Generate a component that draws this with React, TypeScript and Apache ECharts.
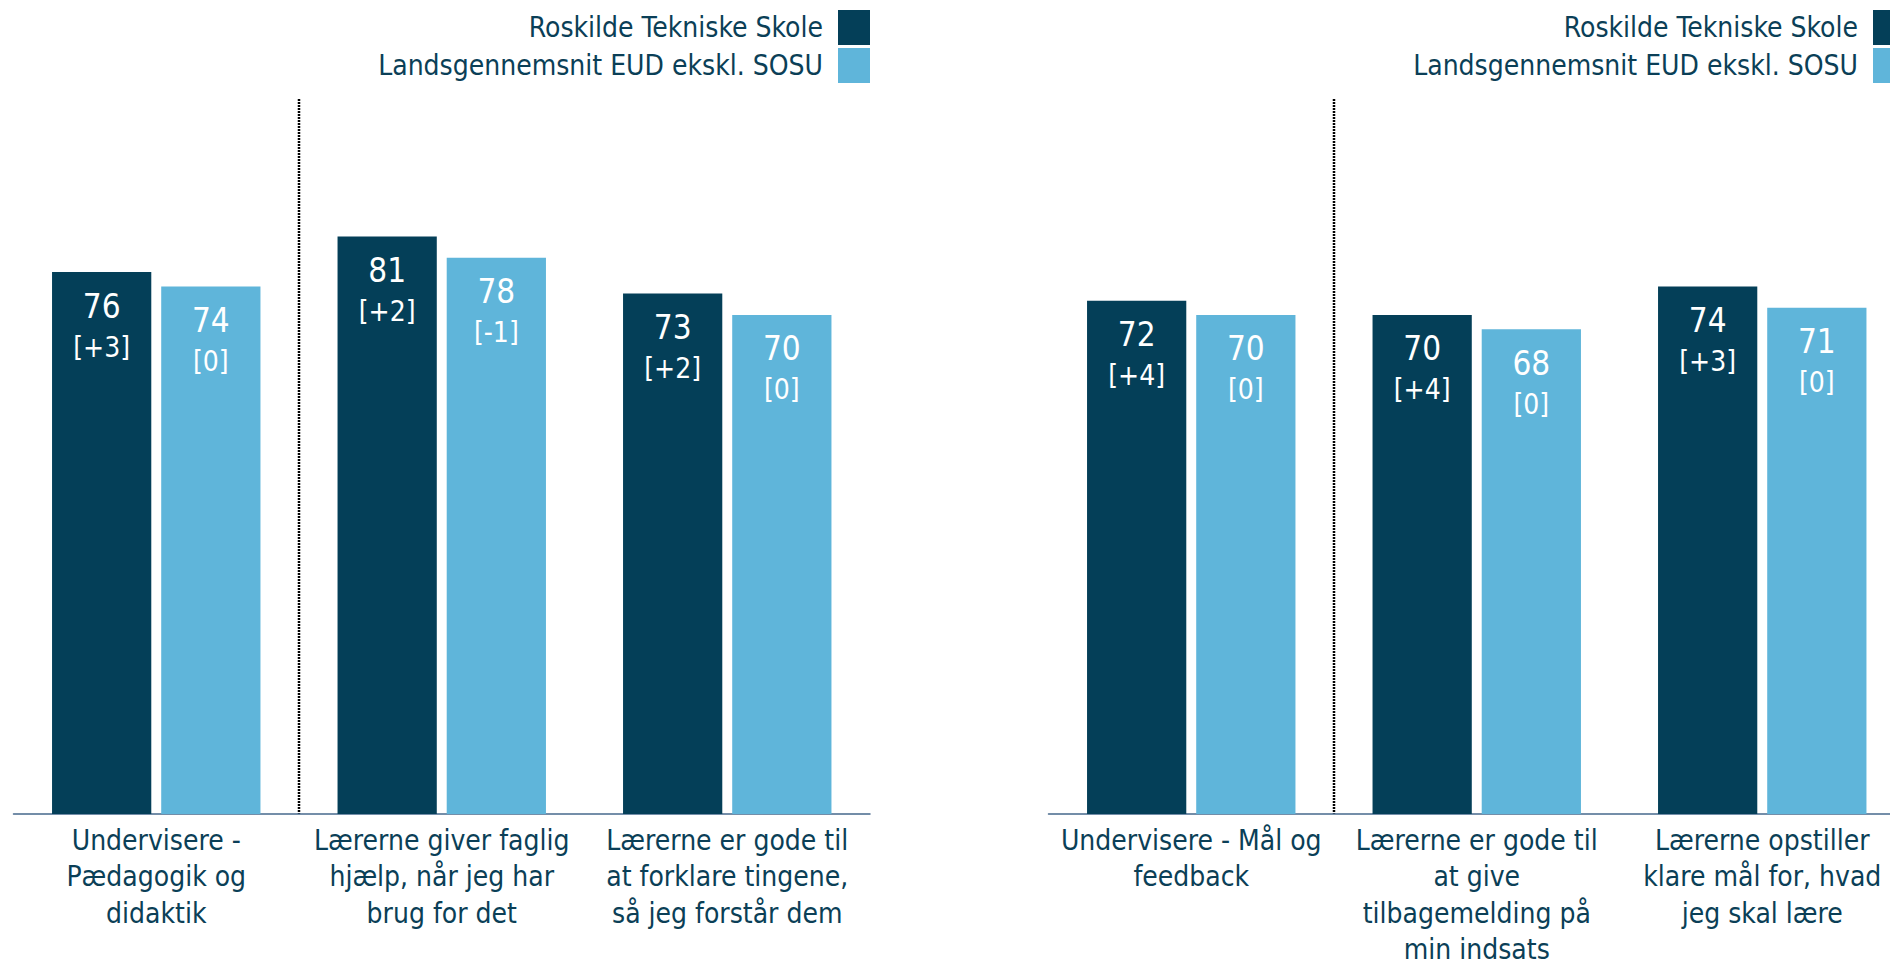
import React, { useEffect, useRef } from "react";
import * as echarts from "echarts";

const seriesNames = ["Roskilde Tekniske Skole", "Landsgennemsnit EUD ekskl. SOSU"];

const leftCategories = [
  "Undervisere -\nPædagogik og\ndidaktik",
  "Lærerne giver faglig\nhjælp, når jeg har\nbrug for det",
  "Lærerne er gode til\nat forklare tingene,\nså jeg forstår dem",
];
const leftSchool = [76, 81, 73];
const leftSchoolDiff = ["+3", "+2", "+2"];
const leftNational = [74, 78, 70];
const leftNationalDiff = ["0", "-1", "0"];

const rightCategories = [
  "Undervisere - Mål og\nfeedback",
  "Lærerne er gode til\nat give\ntilbagemelding på\nmin indsats",
  "Lærerne opstiller\nklare mål for, hvad\njeg skal lære",
];
const rightSchool = [72, 70, 74];
const rightSchoolDiff = ["+4", "+4", "+3"];
const rightNational = [70, 68, 71];
const rightNationalDiff = ["0", "0", "0"];

const DARK = "#043F58";
const LIGHT = "#5FB5DA";
const TEXT = "#0B3F57";
const FONT = 'Tahoma, "DejaVu Sans Condensed", "DejaVu Sans", sans-serif';

function makeData(values: number[], diffs: string[]) {
  return values.map((v, i) => ({ value: v, diff: diffs[i] }));
}

function barSeries(name: string, color: string, axis: number, values: number[], diffs: string[]) {
  return {
    type: "bar",
    name,
    xAxisIndex: axis,
    yAxisIndex: axis,
    barGap: "10%",
    barCategoryGap: "27%",
    itemStyle: { color },
    data: makeData(values, diffs),
    label: {
      show: true,
      position: "insideTop",
      distance: 14,
      color: "#ffffff",
      fontFamily: FONT,
      formatter: (p: any) => `{v|${p.value}}\n{d|[${p.data.diff}]}`,
      rich: {
        v: { fontSize: 33, lineHeight: 40, color: "#ffffff", fontFamily: FONT },
        d: { fontSize: 28, lineHeight: 42, color: "#ffffff", fontFamily: FONT },
      },
    },
  };
}

function legendAt(right: number) {
  return {
    orient: "vertical",
    right,
    top: 10,
    padding: 0,
    align: "right",
    itemWidth: 32,
    itemHeight: 35,
    itemGap: 3,
    icon: "rect",
    selectedMode: false,
    data: seriesNames,
    textStyle: {
      fontFamily: FONT,
      fontSize: 28,
      color: TEXT,
      lineHeight: 35,
      padding: [0, 10, 0, 0],
    },
  };
}

function catAxis(grid: number, data: string[]) {
  return {
    type: "category",
    gridIndex: grid,
    data,
    axisLine: { show: true, lineStyle: { color: "#46688C", width: 1.5 } },
    axisTick: { show: false },
    axisLabel: {
      interval: 0,
      margin: 8,
      color: TEXT,
      fontFamily: FONT,
      fontSize: 28,
      lineHeight: 36.5,
      align: "center",
    },
  };
}

function valAxis(grid: number) {
  return {
    type: "value",
    gridIndex: grid,
    min: 0,
    max: 100,
    show: false,
    splitLine: { show: false },
  };
}

export default function App() {
  const ref = useRef<HTMLDivElement>(null);
  useEffect(() => {
    if (!ref.current) return;
    const chart = echarts.init(ref.current, null, { renderer: "svg" });
    chart.setOption({
      animation: false,
      backgroundColor: "#ffffff",
      legend: [legendAt(1020), legendAt(-15)],
      grid: [
        { left: 13.5, width: 856.5, top: 101, height: 713, containLabel: false, outerBoundsMode: "none" },
        { left: 1048.5, width: 856.5, top: 101, height: 713, containLabel: false, outerBoundsMode: "none" },
      ],
      xAxis: [catAxis(0, leftCategories), catAxis(1, rightCategories)],
      yAxis: [valAxis(0), valAxis(1)],
      series: [
        barSeries(seriesNames[0], DARK, 0, leftSchool, leftSchoolDiff),
        barSeries(seriesNames[1], LIGHT, 0, leftNational, leftNationalDiff),
        barSeries(seriesNames[0], DARK, 1, rightSchool, rightSchoolDiff),
        barSeries(seriesNames[1], LIGHT, 1, rightNational, rightNationalDiff),
      ],
    });
    const cats = [leftCategories, rightCategories];
    const graphics = cats.map((c, i) => {
      const x0 = chart.convertToPixel({ xAxisIndex: i } as any, c[0]) as unknown as number;
      const x1 = chart.convertToPixel({ xAxisIndex: i } as any, c[1]) as unknown as number;
      const yTop = chart.convertToPixel({ yAxisIndex: i } as any, 100) as unknown as number;
      const yBot = chart.convertToPixel({ yAxisIndex: i } as any, 0) as unknown as number;
      const x = (x0 + x1) / 2;
      return {
        type: "line",
        shape: { x1: x, y1: yTop - 2, x2: x, y2: yBot },
        style: { stroke: "#000000", lineWidth: 2.5, lineDash: [2, 1] },
        silent: true,
      };
    });
    chart.setOption({ graphic: graphics });
    return () => chart.dispose();
  }, []);
  return (
    <div
      ref={ref}
      style={{ position: "absolute", left: 0, top: 0, width: 1890, height: 964 }}
    />
  );
}
